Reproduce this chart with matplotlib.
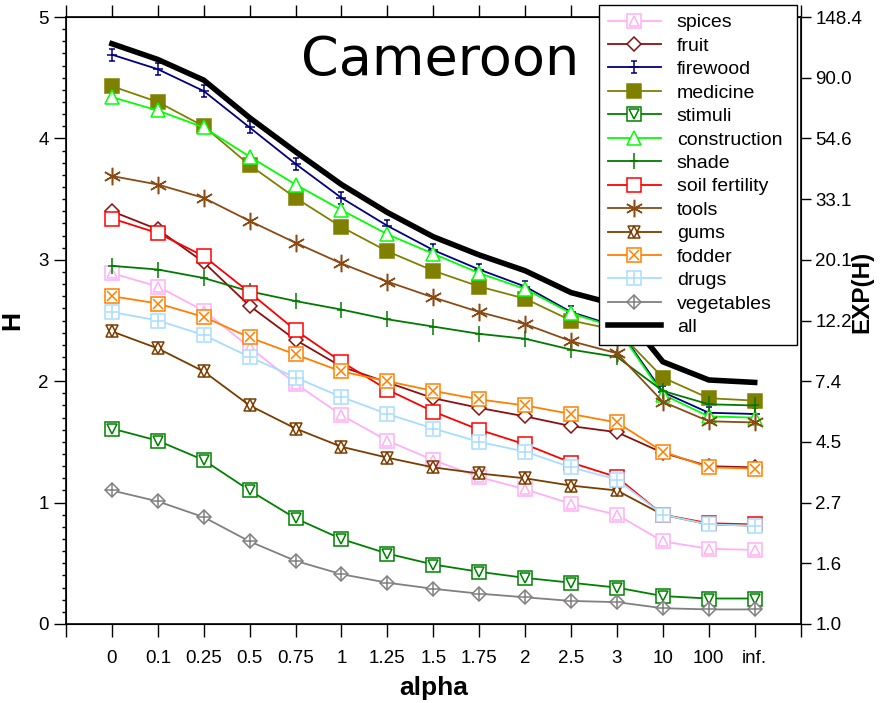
import numpy as np
import matplotlib
matplotlib.use("Agg")
import matplotlib.pyplot as plt
from matplotlib.path import Path
from matplotlib.ticker import MultipleLocator, FixedLocator

plt.rcParams['font.family'] = ['Liberation Sans', 'DejaVu Sans']

alpha_labels = ["0", "0.1", "0.25", "0.5", "0.75", "1", "1.25", "1.5", "1.75",
                "2", "2.5", "3", "10", "100", "inf."]

spices = [2.89, 2.78, 2.58, 2.28, 1.98, 1.72, 1.51, 1.35, 1.21, 1.11, 0.99, 0.90, 0.68, 0.62, 0.61]
fruit = [3.40, 3.25, 2.98, 2.62, 2.34, 2.12, 1.99, 1.86, 1.78, 1.71, 1.63, 1.58, 1.41, 1.30, 1.29]
firewood = [4.69, 4.57, 4.39, 4.09, 3.79, 3.51, 3.28, 3.08, 2.92, 2.78, 2.57, 2.45, 1.91, 1.74, 1.73]
medicine = [4.43, 4.30, 4.10, 3.78, 3.51, 3.27, 3.07, 2.91, 2.78, 2.68, 2.50, 2.42, 2.03, 1.86, 1.84]
stimuli = [1.61, 1.51, 1.35, 1.10, 0.87, 0.70, 0.58, 0.49, 0.43, 0.38, 0.34, 0.30, 0.23, 0.21, 0.21]
construction = [4.34, 4.23, 4.09, 3.85, 3.62, 3.41, 3.21, 3.05, 2.89, 2.76, 2.56, 2.44, 1.89, 1.71, 1.70]
shade = [2.95, 2.92, 2.85, 2.74, 2.66, 2.59, 2.51, 2.45, 2.39, 2.35, 2.26, 2.20, 1.92, 1.81, 1.80]
soil = [3.34, 3.22, 3.03, 2.73, 2.42, 2.16, 1.93, 1.75, 1.60, 1.48, 1.33, 1.21, 0.90, 0.83, 0.82]
tools = [3.69, 3.62, 3.51, 3.32, 3.14, 2.97, 2.82, 2.69, 2.57, 2.47, 2.33, 2.23, 1.83, 1.67, 1.66]
gums = [2.41, 2.27, 2.08, 1.80, 1.61, 1.46, 1.37, 1.29, 1.24, 1.20, 1.14, 1.10, 0.90, 0.82, 0.81]
fodder = [2.70, 2.64, 2.53, 2.36, 2.22, 2.08, 2.00, 1.92, 1.85, 1.80, 1.73, 1.66, 1.42, 1.29, 1.28]
drugs = [2.57, 2.50, 2.38, 2.20, 2.03, 1.87, 1.73, 1.61, 1.50, 1.42, 1.29, 1.19, 0.90, 0.82, 0.81]
vegetables = [1.10, 1.01, 0.88, 0.68, 0.52, 0.41, 0.34, 0.29, 0.25, 0.22, 0.19, 0.18, 0.13, 0.12, 0.12]
all_uses = [4.78, 4.65, 4.48, 4.17, 3.89, 3.62, 3.39, 3.19, 3.04, 2.91, 2.73, 2.63, 2.16, 2.01, 1.99]

x = np.arange(len(alpha_labels))

# I-beam with a cross bar, like the firewood marker
ibeam = Path([(0, -1), (0, 1), (-0.45, 1), (0.45, 1), (-0.45, -1), (0.45, -1), (-0.8, 0), (0.8, 0)],
             [Path.MOVETO, Path.LINETO, Path.MOVETO, Path.LINETO,
              Path.MOVETO, Path.LINETO, Path.MOVETO, Path.LINETO])
asterisk = (6, 2, 0)

# name, data, colour, list of (marker, size, filled)
series = [
    ("spices", spices, "#FFB0F5", [("s", 9.5, False), ("^", 7, False)]),
    ("fruit", fruit, "#8B1010", [("D", 7, False)]),
    ("firewood", firewood, "#000080", [(ibeam, 9, False)]),
    ("medicine", medicine, "#808000", [("s", 10.5, True)]),
    ("stimuli", stimuli, "#008000", [("s", 9.5, False), ("v", 7.5, False)]),
    ("construction", construction, "#00FF00", [("^", 9.5, False)]),
    ("shade", shade, "#007A00", [("|", 11, False), ("_", 6, False)]),
    ("soil fertility", soil, "#FF0000", [("s", 10.5, False)]),
    ("tools", tools, "#8B4A14", [(asterisk, 12.5, False)]),
    ("gums", gums, "#7A3D00", [("^", 8.5, False), ("v", 8.5, False)]),
    ("fodder", fodder, "#FF8000", [("s", 9.5, False), ("x", 7.5, False)]),
    ("drugs", drugs, "#A8DCFF", [("s", 9.5, False), ("+", 8.5, False)]),
    ("vegetables", vegetables, "#808080", [("D", 7.5, False), ("+", 8.5, False)]),
]

fig = plt.figure(figsize=(8.89, 7.03), dpi=100)
ax = fig.add_axes([66 / 889, 79 / 703, 734.6 / 889, 607 / 703])

handles = []
labels = []
for name, vals, col, marks in series:
    parts = []
    for i, (m, ms, filled) in enumerate(marks):
        ls = "-" if i == 0 else "none"
        h, = ax.plot(x, vals, linestyle=ls, color=col, lw=1.3, marker=m, markersize=ms,
                     markerfacecolor=col if filled else "white" if i == 0 else "none",
                     markeredgecolor=col, markeredgewidth=1.1)
        parts.append(h)
    handles.append(tuple(parts))
    labels.append(name)

h_all, = ax.plot(x, all_uses, color="black", lw=4, solid_joinstyle="miter")
handles.append(h_all)
labels.append("all")

ax.set_xlim(-1, 15)
ax.set_ylim(0, 5)
ax.xaxis.set_major_locator(FixedLocator(np.arange(-1, 16)))
ax.set_xticklabels([""] + alpha_labels + [""])
ax.yaxis.set_major_locator(MultipleLocator(1))
ax.yaxis.set_minor_locator(MultipleLocator(0.1))
ax.tick_params(axis="x", which="both", direction="out", length=9, width=1, top=True,
               labelsize=13.5, pad=10)
ax.tick_params(axis="y", which="major", direction="out", length=9, width=1, labelsize=13.5)
ax.tick_params(axis="y", which="minor", direction="out", length=3, width=1)
for s in ax.spines.values():
    s.set_linewidth(1.2)

ax2 = ax.twinx()
ax2.set_ylim(0, 5)
rt = np.arange(0, 5.01, 0.5)
ax2.yaxis.set_major_locator(FixedLocator(rt))
ax2.set_yticklabels(["%.1f" % np.exp(v) for v in rt])
ax2.tick_params(axis="y", direction="out", length=7, width=1, labelsize=13.5)

fig.text(12 / 889, 1 - 320 / 703, "H", rotation=90, fontsize=19, fontweight="bold",
         ha="center", va="center")
fig.text(434 / 889, 1 - 688 / 703, "alpha", fontsize=19, fontweight="bold",
         ha="center", va="center")
fig.text(862 / 889, 1 - 292 / 703, "EXP(H)", rotation=90, fontsize=17.5, fontweight="bold",
         ha="center", va="center")
fig.text(440 / 889, 1 - 60 / 703, "Cameroon", fontsize=39, family="DejaVu Sans",
         ha="center", va="center")

leg = ax2.legend(handles, labels, loc="upper left",
                 bbox_to_anchor=(599 / 889, 0.0, 198 / 889, 1 - 5 / 703), mode="expand",
                 bbox_transform=fig.transFigure, fontsize=14, frameon=True, fancybox=False,
                 framealpha=1, edgecolor="black", handlelength=2.75, handletextpad=0.8,
                 labelspacing=0.3, borderpad=0.45, borderaxespad=0)
leg.get_frame().set_linewidth(1.0)

fig.savefig("out.png", dpi=100)
